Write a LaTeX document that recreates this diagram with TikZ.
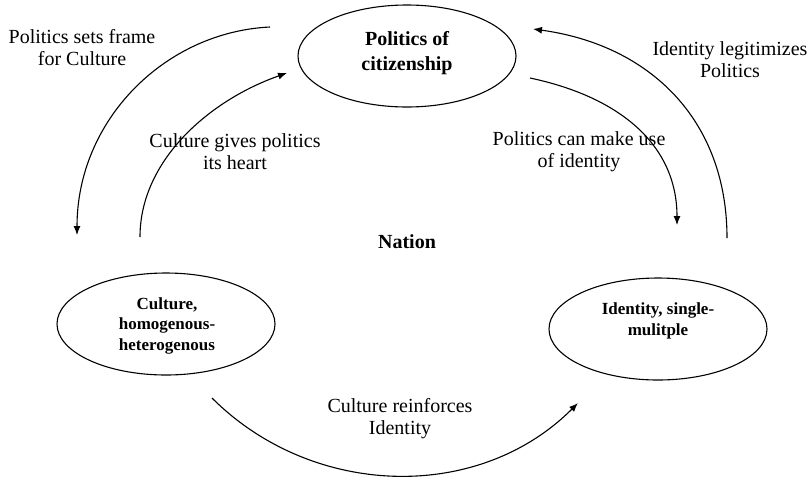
\documentclass[tikz,border=0pt]{standalone}
\usepackage{fontspec}
\setmainfont{Liberation Serif}
\usetikzlibrary{arrows.meta,shapes.geometric}
\begin{document}
\begin{tikzpicture}[x=1pt,y=-1pt,
  ell/.style={draw, ellipse, line width=1.1pt, inner sep=0pt, minimum width=218pt, minimum height=102pt},
  lbl/.style={align=center, font=\fontsize{20}{22}\selectfont, anchor=base, inner sep=0pt},
  btop/.style={align=center, font=\fontsize{20}{25}\selectfont\bfseries, anchor=base, inner sep=0pt},
  bsmall/.style={align=center, font=\fontsize{17}{20.5}\selectfont\bfseries, anchor=base, inner sep=0pt},
  conn/.style={line width=1.1pt, -{Latex[length=9pt,width=7pt]}}]
\useasboundingbox (0,0) rectangle (808,477);

% ellipses
\node[ell] (pol) at (407,56) {};
\node[ell] (cul) at (166,324) {};
\node[ell] (ide) at (658,329) {};

% texts inside ellipses (anchor base = baseline of last line)
\node[btop] (poltext) at (407,70) {Politics of\\citizenship};
\node[bsmall] (cultext) at (167,350) {Culture,\\homogenous-\\heterogenous};
\node[bsmall] (idetext) at (658,335) {Identity, single-\\mulitple};
\node[btop] (nation) at (407,248) {Nation};

% labels
\node[lbl] (l1) at (82,65) {Politics sets frame\\for Culture};
\node[lbl] (l2) at (235,169) {Culture gives politics\\its heart};
\node[lbl] (l3) at (579,167) {Politics can make use\\of identity};
\node[lbl] (l4) at (730,77) {Identity legitimizes\\Politics};
\node[lbl] (l5) at (400,434) {Culture reinforces\\Identity};

% connector end points
\coordinate (a1s) at (270,27);  \coordinate (a1e) at (77,235);
\coordinate (a2s) at (140,237); \coordinate (a2e) at (287,73);
\coordinate (a3s) at (727,238); \coordinate (a3e) at (533,29);
\coordinate (a4s) at (530,78);  \coordinate (a4e) at (677,225);
\coordinate (a5s) at (212,398); \coordinate (a5e) at (578,403);

\draw[conn] (a1s) .. controls (165,32) and (77,120) .. (a1e);
\draw[conn] (a2s) .. controls (140,160) and (210,100) .. (a2e);
\draw[conn] (a3s) .. controls (727,120) and (650,45) .. (a3e);
\draw[conn] (a4s) .. controls (620,97) and (677,145) .. (a4e);
\draw[conn] (a5s) .. controls (312,498) and (478,503) .. (a5e);
\end{tikzpicture}
\end{document}
